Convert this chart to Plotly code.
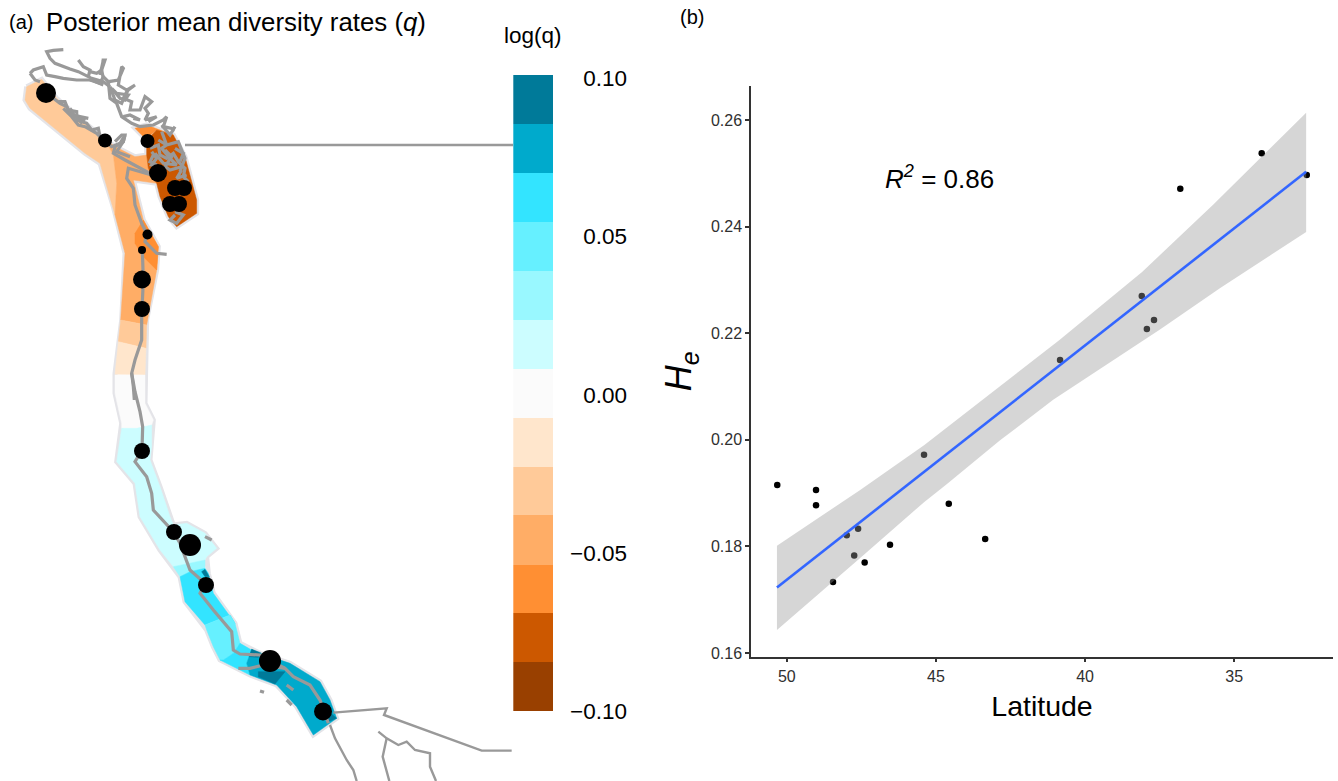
import plotly.graph_objects as go

W, H = 1338, 781
FONT = "Liberation Sans"

# ---------- panel (b) data ----------
latitude = [50.32, 49.02, 49.02, 48.45, 47.99, 47.61, 47.74, 47.39, 46.54, 45.40, 44.57, 43.35,
            40.84, 38.10, 37.69, 37.93, 36.81, 34.08, 32.57]
he_values = [.1915, .1906, .1877, .1733, .1821, .1833, .1783, .1770, .1803, .1972, .1880, .1814,
             .2150, .2270, .2225, .2208, .2471, .2538, .2497]
fit_lat = [50.33, 32.59]
fit_he = [.1723, .2503]
upper_lat = [50.33, 47.54, 45.40, 44.19, 40.87, 38.09, 35.71, 32.59]
upper_he = [.1801, .1906, .1990, .2043, .2187, .2315, .2441, .2614]
lower_lat = [50.33, 47.54, 45.40, 44.63, 42.85, 41.07, 37.49, 35.47, 32.59]
lower_he = [.1643, .1778, .1883, .1917, .1999, .2075, .2207, .2285, .2390]
lat_ticks = [50, 45, 40, 35]
he_ticks = [.16, .18, .20, .22, .24, .26]

# ---------- colour key data ----------
key_low = [-.0998, -.0844, -.0689, -.0535, -.0380, -.0226, -.0071, .0083, .0238, .0392, .0547, .0701, .0856]
key_high = [-.0844, -.0689, -.0535, -.0380, -.0226, -.0071, .0083, .0238, .0392, .0547, .0701, .0856, .1010]
key_colors = ["#994000", "#CC5800", "#FF8F33", "#FFAD66", "#FFCA99", "#FFE6CC", "#FBFBFB",
              "#CCFDFF", "#99F8FF", "#66F0FF", "#33E4FF", "#00AACC", "#007A99"]
key_ticks = [-.10, -.05, 0, .05, .10]
key_ticktext = ["\u22120.10", "\u22120.05", "0.00", "0.05", "0.10"]

def view(points, x0, y0):
    return [(x / 3 + x0, y / 3 + y0) for x, y in points]

def north(p): return view(p, 0, 40)
def south(p): return view(p, 90, 360)
def top(p): return view(p, 20, 45)
def topb(p): return view(p, 90, 45)
def sound(p): return view(p, 95, 125)
def corner(p): return view(p, 310, 690)

outline = north([(80,140),(125,118),(170,175),(215,215),(270,262),(315,300),(355,325),(405,350),(440,345),
                 (440,300),(405,265),(440,255),(520,285),(555,350),(590,480),(590,520),(530,560),(505,530),
                 (480,470),(470,430),(400,420),(430,540),(475,620),(470,690),(440,840),(435,1000)]) + \
          south([(165,130),(190,180),(185,260),(180,300),(210,380),(240,470),(250,495),(290,490),(345,520),
                 (380,565),(350,590),(355,640),(370,700),(435,790),(450,850),(510,880),(600,910),(690,965),
                 (720,1020),(740,1075),(670,1125),(620,1040),(560,975),(480,945),(390,900),(370,860),
                 (350,810),(285,725),(270,650),(210,570),(150,470),(135,370),(80,305),(95,190),(75,100),(75,45)]) + \
          north([(345,1000),(365,840),(375,640),(340,500),(300,370),(255,340),(90,205),(75,180),(80,140)])

regions = [
    ("#FFCA99", north([(80,140),(125,118),(170,175),(215,215),(270,262),(315,300),(340,345),(350,430),(345,525),
                       (300,370),(255,340),(90,205),(75,180)])),
    ("#FFAD66", north([(315,300),(355,325),(405,350),(440,345),(445,385),(470,430),(400,420),(430,540),(475,620),
                       (470,690),(440,855),(362,840),(375,640),(345,525),(350,430),(340,345)])),
    ("#FF8F33", north([(405,265),(440,255),(520,285),(470,270),(445,290),(440,300)])),
    ("#FF8F33", north([(430,540),(475,620),(470,690),(430,650),(405,610),(405,580)])),
    ("#CC5800", north([(440,300),(470,270),(520,285),(555,350),(590,480),(590,520),(530,560),(505,530),(480,470),
                       (470,430),(445,385),(440,345)])),
    ("#FFCA99", north([(362,840),(440,855),(438,925),(400,915),(355,905)])),
    ("#FFE6CC", north([(355,905),(400,915),(438,925),(435,1005),(345,1003)])),
    ("#FBFBFB", south([(75,45),(165,45),(165,130),(190,180),(185,195),(140,205),(95,205),(95,190),(75,100)])),
    ("#CCFDFF", south([(95,205),(140,205),(185,195),(185,260),(180,300),(210,380),(240,470),(250,495),(290,490),
                       (345,520),(380,565),(350,590),(345,600),(300,610),(250,620),(210,570),(150,470),(135,370),(80,305)])),
    ("#99F8FF", south([(250,620),(300,610),(345,600),(345,625),(300,635),(270,650)])),
    ("#33E4FF", south([(270,650),(300,635),(345,625),(355,640),(370,700),(435,790),(420,765),(345,795),(285,725)])),
    ("#66F0FF", south([(345,795),(420,765),(435,790),(450,850),(430,880),(400,900),(390,900),(370,860),(350,810)])),
    ("#33E4FF", south([(450,850),(485,870),(470,910),(480,945),(390,900),(400,900),(430,880)])),
    ("#00AACC", south([(485,868),(510,880),(600,910),(690,965),(720,1020),(740,1075),(670,1125),(620,1040),(560,975),
                       (480,945),(470,910)])),
    ("#007A99", south([(505,935),(585,935),(555,972),(505,950)])),
    ("#007A99", south([(485,868),(512,878),(505,892),(478,890)])),
    ("#007A99", south([(335,635),(345,628),(358,650),(345,650)])),
    ("#007A99", south([(705,1060),(722,1060),(740,1075),(710,1087)])),
]

coast_lines = [
    top([(130,14),(100,16),(80,20),(90,40),(105,55),(130,65),(150,72),(175,80),(195,90),(215,100),(250,110),(270,125)]),
    top([(175,45),(190,65),(210,75),(205,95)]),
    top([(250,45),(240,90)]),
    top([(30,85),(40,75),(70,65),(80,90),(105,95),(130,100),(170,105),(215,105),(250,120)]),
    top([(30,85),(45,105),(60,110)]),
    top([(100,160),(120,175),(140,185),(155,210),(180,215),(205,220)]),
    top([(130,190),(155,215),(175,240),(195,245),(230,265),(250,285),(275,305),(300,295),(315,270),(310,290),(290,320),(330,335)]),
    top([(150,190),(165,215),(190,225),(180,235)]),
    top([(115,170),(135,170),(145,195),(170,200),(170,225),(200,235),(215,255),(235,250),(240,275)]),
    topb([(0,105),(30,115),(40,95),(55,110),(85,105),(100,70),(95,65),(85,120),(110,135),(135,120),(115,135),(100,160),
          (125,170),(120,195),(150,195),(165,155),(185,170),(165,190),(175,205),(165,225),(200,215),(175,230)]),
    topb([(0,80),(20,85),(35,75),(45,45),(35,45)]),
    topb([(35,75),(40,100)]),
    topb([(55,110),(60,160),(80,175),(95,215),(125,235),(150,245),(190,240),(220,225),(230,215),(220,245),(245,250),(250,260)]),
    topb([(65,130),(90,160),(105,165),(115,150),(80,145),(65,130)]),
    topb([(60,125),(75,165),(95,175),(110,140)]),
    topb([(100,215),(120,210),(150,225),(130,220)]),
    sound([(60,50),(80,30),(90,30),(85,50),(60,65),(55,85),(90,105),(130,125),(165,145)]),
    sound([(170,150),(100,130),(95,160),(115,190),(120,240),(140,295),(155,325),(150,350),(185,385),(215,388)]),
    sound([(165,70),(190,60),(195,90),(215,100),(235,85),(250,110),(270,130),(265,155),(280,170)]),
    sound([(180,85),(205,115),(245,120),(225,100),(200,70),(215,60),(250,50),(270,100),(255,140)]),
    sound([(200,20),(215,60),(190,45)]),
    sound([(200,0),(225,30),(240,5)]),
    sound([(240,270),(225,285),(245,295),(265,270),(240,260)]),
    sound([(175,90),(165,110),(185,120)]),
    sound([(170,80),(185,100),(170,120),(190,125)]),
    sound([(210,75),(230,95),(210,125),(225,135),(260,125)]),
    sound([(240,70),(265,85),(255,110)]),
    sound([(260,135),(245,160),(275,150)]),
    north([(427,630),(430,720),(425,830),(425,900),(405,960),(395,1000),(400,1040),(403,1080)]),
    south([(125,40),(135,95),(150,155),(158,200),(156,270),(135,305),(170,350),(185,400),(190,450),(230,495),(250,515),
           (270,550),(285,590),(300,630),(345,670),(330,700),(370,750),(405,790),(425,815),(430,870),(450,882),(510,885),
           (585,925),(610,950),(660,975),(690,1020),(700,1050),(715,1090)]),
    south([(445,925),(480,925),(520,915),(585,925)]),
    south([(510,993),(522,997)]),
    south([(590,1020),(605,1035)]),
    south([(590,975),(610,990)]),
    south([(345,530),(365,540)]),
    corner([(60,105),(75,145),(110,210),(130,240),(140,273)]),
    corner([(205,125),(230,145),(265,165),(290,155),(315,180),(360,190),(360,230),(378,273)]),
    corner([(230,145),(218,200),(238,273)]),
    corner([(70,68),(230,55),(222,75),(515,182),(605,182)]),
    [(185, 145), (513, 145)],
]

sites_x = [46, 105, 147.5, 158, 175, 184, 170, 179, 147.5, 142, 142, 142, 142, 174, 190, 206, 270, 323]
sites_y = [93, 140.5, 141, 173, 188, 188, 204, 204, 234.5, 250, 279.5, 309, 451, 532, 545, 585, 661, 711.5]
sites_n = [20, 14, 14, 18, 16, 16, 16, 16, 10, 8, 18, 16, 16, 16, 22, 16, 22, 18]

# ---------- figure ----------
fig = go.Figure()

def xy(points):
    return [p[0] for p in points], [p[1] for p in points]

ox, oy = xy(outline)
fig.add_trace(go.Scatter(x=ox, y=oy, mode="lines", line=dict(color="#E4E4E8", width=5), xaxis="x", yaxis="y", hoverinfo="skip"))
for color, pts in regions:
    rx, ry = xy(pts)
    fig.add_trace(go.Scatter(x=rx + rx[:1], y=ry + ry[:1], mode="lines", fill="toself", fillcolor=color,
                             line=dict(color=color, width=0.5), xaxis="x", yaxis="y", hoverinfo="skip"))
for i, line in enumerate(coast_lines):
    lx, ly = xy(line)
    width = 2.4 if i >= len(coast_lines) - 5 else 3.2
    fig.add_trace(go.Scatter(x=lx, y=ly, mode="lines", line=dict(color="#999999", width=width), xaxis="x", yaxis="y", hoverinfo="skip"))
fig.add_trace(go.Scatter(x=sites_x, y=sites_y, mode="markers",
                         marker=dict(color="black", size=sites_n, opacity=1, line=dict(width=0)),
                         xaxis="x", yaxis="y", name="sites"))

# colour key
fig.add_trace(go.Bar(x=[0.5] * len(key_low), y=[h - l for l, h in zip(key_low, key_high)], base=key_low, width=1,
                     marker=dict(color=key_colors, line=dict(width=0)), xaxis="x3", yaxis="y3", hoverinfo="skip"))

# panel (b)
fig.add_trace(go.Scatter(x=latitude, y=he_values, mode="markers", marker=dict(color="black", size=6.5, line=dict(width=0)),
                         xaxis="x2", yaxis="y2", name="He"))
fig.add_trace(go.Scatter(x=upper_lat + lower_lat[::-1], y=upper_he + lower_he[::-1], mode="lines", fill="toself",
                         fillcolor="rgba(153,153,153,0.4)", line=dict(width=0), xaxis="x2", yaxis="y2", hoverinfo="skip"))
fig.add_trace(go.Scatter(x=fit_lat, y=fit_he, mode="lines", line=dict(color="#3366FF", width=2.6), xaxis="x2", yaxis="y2"))

tickfont = dict(family=FONT, size=16, color="#303030")
fig.update_layout(
    template="none",
    width=W, height=H, autosize=False, margin=dict(l=0, r=0, t=0, b=0, pad=0), showlegend=False,
    paper_bgcolor="white", plot_bgcolor="rgba(0,0,0,0)", barmode="overlay", bargap=0,
    font=dict(family=FONT, color="black"),
    xaxis=dict(domain=[0, 1], range=[0, W], visible=False, fixedrange=True),
    yaxis=dict(domain=[0, 1], range=[H, 0], visible=False, fixedrange=True),
    xaxis2=dict(domain=[751 / W, 1333 / W], range=[51.2, 31.69], anchor="y2", showgrid=False, zeroline=False,
                showline=True, linecolor="#333333", linewidth=1.5, ticks="outside", ticklen=4, tickwidth=1.5, tickcolor="#333333",
                tickvals=lat_ticks, ticktext=[str(v) for v in lat_ticks], tickfont=tickfont,
                title=dict(text="Latitude", font=dict(family=FONT, size=28.5, color="black"), standoff=12)),
    yaxis2=dict(domain=[(H - 656.7) / H, (H - 86) / H], range=[.1593, .2664], anchor="x2", showgrid=False, zeroline=False,
                showline=True, linecolor="#333333", linewidth=1.5, ticks="outside", ticklen=4, tickwidth=1.5, tickcolor="#333333",
                tickvals=he_ticks, ticktext=["%.2f" % v for v in he_ticks], tickfont=tickfont,
                title=dict(text="<i>H<sub>e</sub></i>", font=dict(family=FONT, size=36, color="black"), standoff=8)),
    xaxis3=dict(domain=[513.3 / W, 553.3 / W], range=[0, 1], visible=False, anchor="y3", fixedrange=True),
    yaxis3=dict(domain=[(H - 712.5) / H, (H - 74.7) / H], range=[-.1003, .101], anchor="free", position=627 / W, side="left",
                showgrid=False, zeroline=False, showline=False, ticks="", tickvals=key_ticks, ticktext=key_ticktext,
                tickfont=dict(family=FONT, size=22.5, color="black")),
    annotations=[
        dict(text="(a)", x=7 / W, y=1 - 22 / H, xref="paper", yref="paper", xanchor="left", yanchor="middle", showarrow=False,
             font=dict(family=FONT, size=20, color="black")),
        dict(text="Posterior mean diversity rates (<i>q</i>)", x=44 / W, y=1 - 22 / H, xref="paper", yref="paper", xanchor="left",
             yanchor="middle", showarrow=False, font=dict(family=FONT, size=25.8, color="black")),
        dict(text="log(q)", x=533 / W, y=1 - 35 / H, xref="paper", yref="paper", xanchor="center", yanchor="middle", showarrow=False,
             font=dict(family=FONT, size=22.5, color="black")),
        dict(text="(b)", x=678 / W, y=1 - 17 / H, xref="paper", yref="paper", xanchor="left", yanchor="middle", showarrow=False,
             font=dict(family=FONT, size=20, color="black")),
        dict(text="<i>R<sup>2</sup></i> = 0.86", x=883 / W, y=1 - 178 / H, xref="paper", yref="paper", xanchor="left", yanchor="middle",
             showarrow=False, font=dict(family=FONT, size=26, color="black")),
    ],
)
fig.write_html("out.html", post_script="document.body.style.margin='0';", config={"displayModeBar": False})
